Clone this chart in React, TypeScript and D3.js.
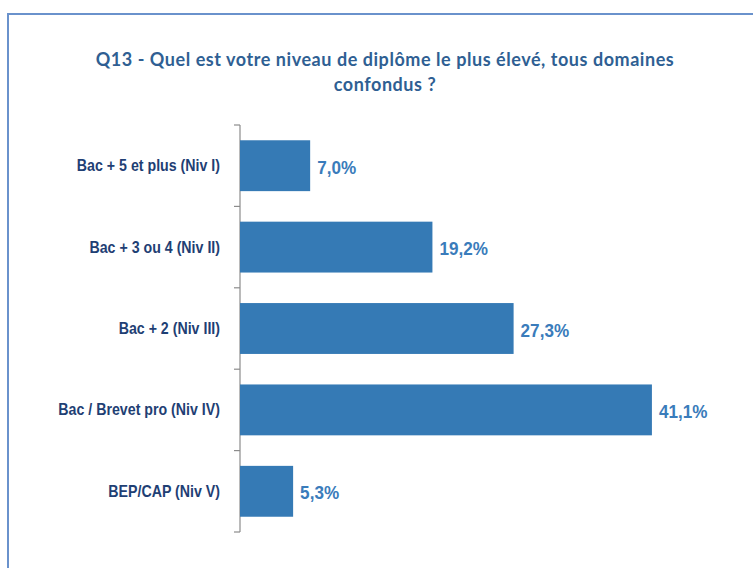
import { useRef, useEffect } from 'react';
import * as d3 from 'd3';

const W = 753;
const H = 568;

const categories = [
  'Bac + 5 et plus (Niv I)',
  'Bac + 3 ou 4 (Niv II)',
  'Bac + 2 (Niv III)',
  'Bac / Brevet pro (Niv IV)',
  'BEP/CAP (Niv V)',
];
const values = [7.0, 19.2, 27.3, 41.1, 5.3];
const titleLines = [
  'Q13 - Quel est votre niveau de diplôme le plus élevé, tous domaines',
  'confondus ?',
];

const SANS = '"Liberation Sans", Arial, sans-serif';

export default function App() {
  const svgRef = useRef<SVGSVGElement>(null);

  useEffect(() => {
    const svg = d3.select(svgRef.current);
    svg.selectAll('*').remove();

    svg.append('rect').attr('width', W).attr('height', H).attr('fill', '#fff');
    // frame, runs off the right/bottom edge like the slide crop
    svg.append('rect')
      .attr('x', 8).attr('y', 14).attr('width', W + 20).attr('height', H + 20)
      .attr('fill', 'none').attr('stroke', '#6a92cc').attr('stroke-width', 2);

    // title
    svg.append('g').selectAll('text').data(titleLines).join('text')
      .attr('x', 385).attr('y', (d, i) => 66 + i * 25)
      .attr('text-anchor', 'middle')
      .attr('font-family', 'Lato, "Open Sans", sans-serif')
      .attr('font-weight', 'bold').attr('font-size', 18)
      .attr('letter-spacing', 0.55)
      .attr('fill', '#2f5f93')
      .text(d => d);

    const x0 = 240;
    const x = d3.scaleLinear().domain([0, 45]).range([x0, x0 + 451]);
    const y = d3.scaleBand().domain(categories).range([125, 532]).paddingInner(0.375).paddingOuter(0.1875);

    // axis: vertical line with ticks between bands
    const axis = svg.append('g').attr('stroke', '#8c8c8c').attr('stroke-width', 1.2);
    axis.append('line').attr('x1', x0).attr('x2', x0).attr('y1', 125).attr('y2', 532);
    const step = y.step();
    const bounds = d3.range(categories.length + 1).map(i => 125 + i * step);
    axis.selectAll('.tk').data(bounds).join('line').attr('class', 'tk')
      .attr('x1', x0 - 6).attr('x2', x0).attr('y1', d => d).attr('y2', d => d);

    svg.append('g').selectAll('rect').data(values).join('rect')
      .attr('x', x0)
      .attr('y', (d, i) => y(categories[i])!)
      .attr('width', d => x(d) - x0)
      .attr('height', y.bandwidth())
      .attr('fill', '#357ab5');

    // value labels (condensed look via horizontal scale)
    svg.append('g').selectAll('text').data(values).join('text')
      .attr('transform', (d, i) =>
        `translate(${x(d) + 7},${y(categories[i])! + y.bandwidth() / 2 + 8}) scale(0.92,1)`)
      .attr('font-family', SANS).attr('font-weight', 'bold').attr('font-size', 18.6)
      .attr('fill', '#3a7cbb')
      .text(d => d.toFixed(1).replace('.', ',') + '%');

    svg.append('g').selectAll('text').data(categories).join('text')
      .attr('transform', d => `translate(220,${y(d)! + y.bandwidth() / 2 + 5.5}) scale(0.835,1)`)
      .attr('text-anchor', 'end')
      .attr('font-family', SANS).attr('font-weight', 'bold').attr('font-size', 17)
      .attr('fill', '#1f3f74')
      .text(d => d);
  }, []);

  return (
    <div style={{ position: 'absolute', left: 0, top: 0, width: W, height: H }}>
      <svg ref={svgRef} width={W} height={H} style={{ display: 'block' }} />
    </div>
  );
}
